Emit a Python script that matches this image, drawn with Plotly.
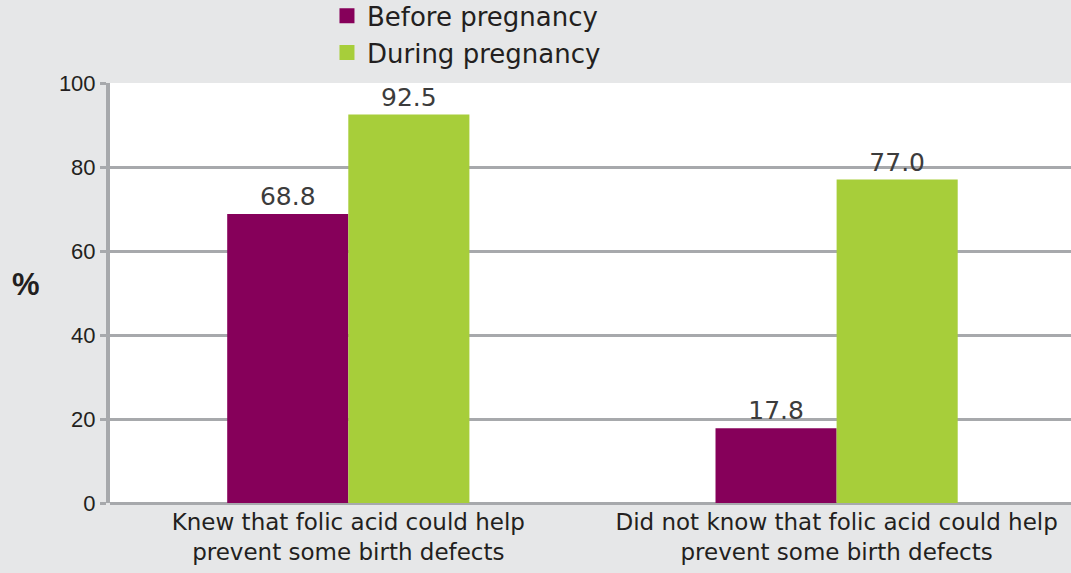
import plotly.graph_objects as go

# Awareness of folic acid benefits vs. timing of supplement use
categories = [
    "Knew that folic acid could help<br>prevent some birth defects",
    "Did not know that folic acid could help<br>prevent some birth defects",
]
series_names = ["Before pregnancy", "During pregnancy"]
before_values = [68.8, 17.8]
during_values = [92.5, 77.0]
y_ticks = [0, 20, 40, 60, 80, 100]

PURPLE = "#86005a"
GREEN = "#a7ce3a"
GRID = "#a7a9ac"
BG = "#e6e7e8"
TEXT = "#231f20"
FONT = "DejaVu Sans, Verdana, sans-serif"
TICK_FONT = "Liberation Sans, Arial, Helvetica, sans-serif"

fig = go.Figure()

for name, vals, color in [
    (series_names[0], before_values, PURPLE),
    (series_names[1], during_values, GREEN),
]:
    fig.add_trace(go.Bar(
        x=categories, y=vals, name=name,
        marker=dict(color=color, line=dict(width=0)),
        text=[f"{v:.1f}" for v in vals],
        textposition="outside",
        textfont=dict(family=FONT, size=25, color="#3c3c3c"),
        cliponaxis=False,
        showlegend=False,
    ))

# legend entries with larger square swatches
for name, color in [(series_names[0], PURPLE), (series_names[1], GREEN)]:
    fig.add_trace(go.Scatter(
        x=[None], y=[None], mode="markers", name=name,
        marker=dict(symbol="square", size=15, color=color),
    ))

fig.add_annotation(
    text="<b>%</b>", xref="paper", yref="paper", x=-0.087, y=0.52,
    xanchor="center", yanchor="middle",
    showarrow=False, font=dict(family=TICK_FONT, size=31, color=TEXT),
)

fig.update_layout(
    width=1071, height=573,
    margin=dict(l=110, r=0, t=83, b=70, autoexpand=False),
    paper_bgcolor=BG, plot_bgcolor="white",
    barmode="group", bargap=0.504, bargroupgap=0,
    font=dict(family=FONT, color=TEXT),
    legend=dict(
        xref="container", yref="paper",
        x=0.3053, xanchor="left", y=1.216, yanchor="top",
        bgcolor="rgba(0,0,0,0)",
        font=dict(family=FONT, size=26, color=TEXT),
        tracegroupgap=0,
    ),
    xaxis=dict(
        type="category", range=[-0.488, 1.48],
        showgrid=False, showline=False, zeroline=False,
        ticks="", tickangle=0, automargin=False, ticklabelstandoff=3,
        tickfont=dict(family=FONT, size=23, color=TEXT),
    ),
    yaxis=dict(
        range=[0, 100], tickvals=y_ticks, automargin=False,
        showgrid=True, gridcolor=GRID, gridwidth=3,
        zeroline=True, zerolinecolor=GRID, zerolinewidth=3,
        showline=True, linecolor=GRID, linewidth=4,
        ticks="outside", ticklen=6, tickwidth=3, tickcolor=GRID,
        ticklabelstandoff=0,
        tickfont=dict(family=TICK_FONT, size=22, color=TEXT),
    ),
)

fig.write_html("out.html")
